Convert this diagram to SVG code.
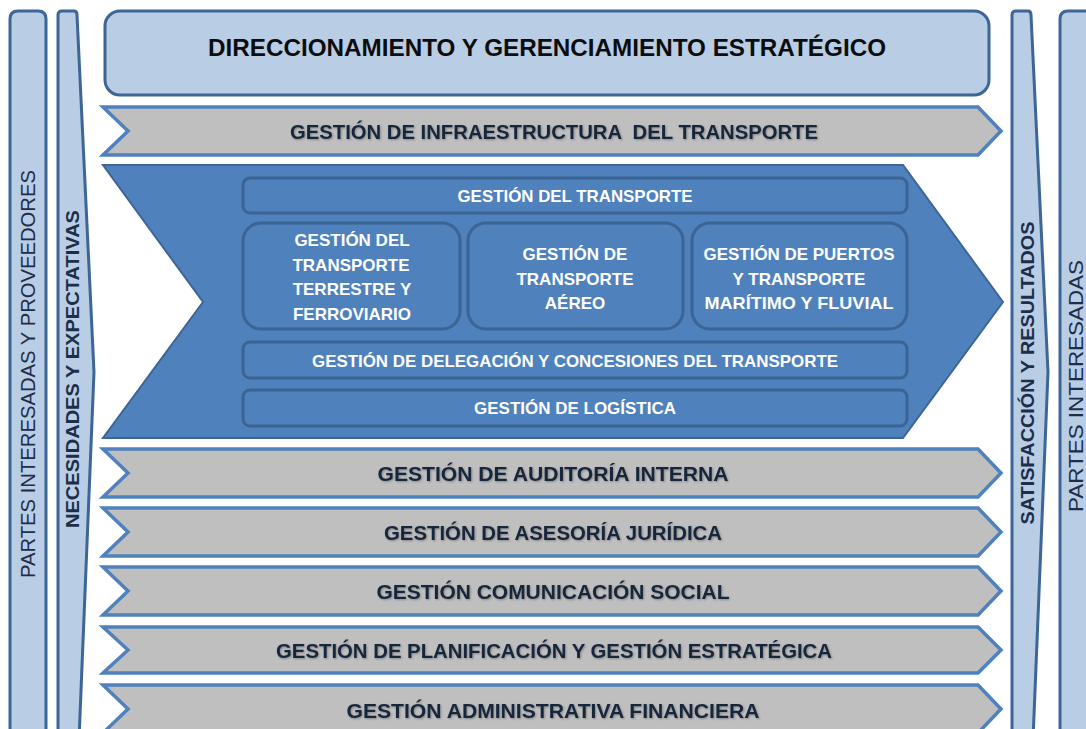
<svg xmlns="http://www.w3.org/2000/svg" width="1086" height="729" viewBox="0 0 1086 729">
<style>
.side{fill:#b9cde5;stroke:#3d6596;stroke-width:3;stroke-linejoin:round}
.gray{fill:#bfbfbf;stroke:#4f81bd;stroke-width:3.5;stroke-linejoin:miter}
.big{fill:#4f81bd;stroke:#3d6596;stroke-width:2}
.inner{fill:#4f81bd;stroke:#3b6393;stroke-width:3}
.vt{font-family:"Liberation Sans",Arial,sans-serif;font-size:20px;fill:#1c2e4a;text-anchor:middle;dominant-baseline:central}
.vtb{font-family:"Liberation Sans",Arial,sans-serif;font-size:19px;font-weight:bold;fill:#1c2e4a;text-anchor:middle;dominant-baseline:central}
.gt{font-family:"Liberation Sans",Arial,sans-serif;font-size:21px;font-weight:bold;fill:#17253a;text-anchor:middle;dominant-baseline:central}
.wt{font-family:"Liberation Sans",Arial,sans-serif;font-size:17px;font-weight:bold;fill:#ffffff;text-anchor:middle;dominant-baseline:central}
.tt{font-family:"Liberation Sans",Arial,sans-serif;font-size:24px;font-weight:bold;fill:#0d0d0d;text-anchor:middle;dominant-baseline:central}
</style>
<defs>
<filter id="sh" x="-5%" y="-30%" width="110%" height="160%">
<feDropShadow dx="1" dy="1" stdDeviation="0.8" flood-color="#000" flood-opacity="0.3"/>
</filter>
</defs>

<g id="partes-proveedores">
<path class="side" d="M10,740 V19 Q10,11 18,11 H38 Q46,11 46,19 V740 Z"/>
<text class="vt" transform="translate(28,374) rotate(-90)" textLength="408" lengthAdjust="spacingAndGlyphs">PARTES INTERESADAS Y PROVEEDORES</text>
</g>

<g id="necesidades">
<path class="side" d="M58,740 V15 Q58,11 62,11 H74 Q77,11 77,15 L94,372 L79,740 Z"/>
<text class="vtb" transform="translate(72,369) rotate(-90)" textLength="318" lengthAdjust="spacingAndGlyphs">NECESIDADES Y EXPECTATIVAS</text>
</g>

<g id="satisfaccion">
<path class="side" d="M1012,740 V15 Q1012,11 1016,11 H1028 Q1031,11 1031,15 L1048,372 L1033,740 Z"/>
<text class="vtb" transform="translate(1027,373) rotate(-90)" textLength="303" lengthAdjust="spacingAndGlyphs">SATISFACCIÓN Y RESULTADOS</text>
</g>

<g id="partes-interesadas">
<path class="side" d="M1060,740 V19 Q1060,11 1068,11 H1100 V740 Z"/>
<text class="vt" transform="translate(1076,386) rotate(-90)" textLength="252" lengthAdjust="spacingAndGlyphs">PARTES INTERESADAS</text>
</g>

<g id="direccionamiento">
<rect class="side" x="105" y="11" width="884" height="84" rx="15"/>
<text class="tt" x="547" y="47" textLength="678" lengthAdjust="spacingAndGlyphs">DIRECCIONAMIENTO Y GERENCIAMIENTO ESTRATÉGICO</text>
</g>

<g id="infraestructura">
<path class="gray" d="M103,107 H978 L1001,131 L978,155 H103 L128,131 Z"/>
<text class="gt" filter="url(#sh)" x="554" y="131" textLength="528" lengthAdjust="spacingAndGlyphs" xml:space="preserve">GESTIÓN DE INFRAESTRUCTURA  DEL TRANSPORTE</text>
</g>

<g id="gestion-transporte-grupo">
<path class="big" d="M103,165 H903 L1003,302 L903,438 H103 L203,302 Z"/>
</g>

<g id="gestion-del-transporte">
<rect class="inner" x="243" y="178" width="664" height="35" rx="7"/>
<text class="wt" x="575" y="196" textLength="235" lengthAdjust="spacingAndGlyphs">GESTIÓN DEL TRANSPORTE</text>
</g>

<g id="terrestre">
<rect class="inner" x="243" y="223" width="217" height="106" rx="18"/>
<text class="wt" x="352" y="240">GESTIÓN DEL</text>
<text class="wt" x="351" y="265">TRANSPORTE</text>
<text class="wt" x="352" y="289">TERRESTRE Y</text>
<text class="wt" x="352" y="314">FERROVIARIO</text>
</g>

<g id="aereo">
<rect class="inner" x="468" y="223" width="215" height="106" rx="18"/>
<text class="wt" x="575" y="254">GESTIÓN DE</text>
<text class="wt" x="575" y="279">TRANSPORTE</text>
<text class="wt" x="575" y="303">AÉREO</text>
</g>

<g id="maritimo">
<rect class="inner" x="692" y="223" width="215" height="106" rx="18"/>
<text class="wt" x="799" y="254" textLength="191" lengthAdjust="spacingAndGlyphs">GESTIÓN DE PUERTOS</text>
<text class="wt" x="799" y="279">Y TRANSPORTE</text>
<text class="wt" x="799" y="303" textLength="189" lengthAdjust="spacingAndGlyphs">MARÍTIMO Y FLUVIAL</text>
</g>

<g id="delegacion">
<rect class="inner" x="243" y="342" width="664" height="36" rx="7"/>
<text class="wt" x="575" y="361" textLength="526" lengthAdjust="spacingAndGlyphs">GESTIÓN DE DELEGACIÓN Y CONCESIONES DEL TRANSPORTE</text>
</g>

<g id="logistica">
<rect class="inner" x="243" y="390" width="664" height="36" rx="7"/>
<text class="wt" x="575" y="408" textLength="202" lengthAdjust="spacingAndGlyphs">GESTIÓN DE LOGÍSTICA</text>
</g>

<g id="auditoria">
<path class="gray" d="M103,449 H978 L1001,473 L978,497 H103 L128,473 Z"/>
<text class="gt" filter="url(#sh)" x="553" y="473" textLength="351" lengthAdjust="spacingAndGlyphs">GESTIÓN DE AUDITORÍA INTERNA</text>
</g>

<g id="asesoria">
<path class="gray" d="M103,508 H978 L1001,532 L978,556 H103 L128,532 Z"/>
<text class="gt" filter="url(#sh)" x="553" y="532" textLength="338" lengthAdjust="spacingAndGlyphs">GESTIÓN DE ASESORÍA JURÍDICA</text>
</g>

<g id="comunicacion">
<path class="gray" d="M103,567 H978 L1001,591 L978,615 H103 L128,591 Z"/>
<text class="gt" filter="url(#sh)" x="553" y="591" textLength="353" lengthAdjust="spacingAndGlyphs">GESTIÓN COMUNICACIÓN SOCIAL</text>
</g>

<g id="planificacion">
<path class="gray" d="M103,627 H978 L1001,650 L978,673 H103 L128,650 Z"/>
<text class="gt" filter="url(#sh)" x="554" y="650" textLength="556" lengthAdjust="spacingAndGlyphs">GESTIÓN DE PLANIFICACIÓN Y GESTIÓN ESTRATÉGICA</text>
</g>

<g id="administrativa">
<path class="gray" d="M103,685 H978 L1001,709 L978,733 H103 L128,709 Z"/>
<text class="gt" filter="url(#sh)" x="553" y="710" textLength="413" lengthAdjust="spacingAndGlyphs">GESTIÓN ADMINISTRATIVA FINANCIERA</text>
</g>

<g id="connectors"></g>
</svg>
